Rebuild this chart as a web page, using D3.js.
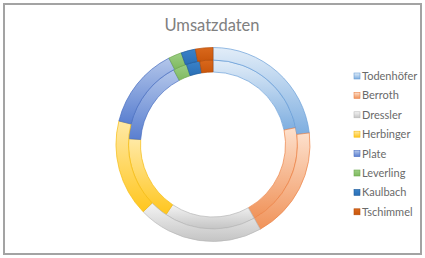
<!DOCTYPE html>
<html>
<head>
<meta charset="utf-8">
<script src="https://cdn.jsdelivr.net/npm/d3@7"></script>
<style>
  body { margin: 0; background: #fff; }
  svg { display: block; }
</style>
</head>
<body>
<svg id="chart"></svg>
<script>
// Umsatzdaten - two rings, inner = first series, outer = second series
var categories = ["Todenhöfer", "Berroth", "Dressler", "Herbinger", "Plate", "Leverling", "Kaulbach", "Tschimmel"];
var innerValues = [21.8, 20.1, 17.5, 16.7, 16.2, 2.6, 2.6, 2.5];
var outerValues = [23.1, 18.8, 20.9, 16.1, 13.6, 2.2, 2.4, 2.9];

var lightColors = ["#e2edf8", "#fde0cc", "#f4f4f4", "#ffe9a6", "#b3c6ea", "#9ccf84", "#3a82c8", "#d9681c"];
var darkColors = ["#7eaee0", "#f0935a", "#c4c4c4", "#ffc61e", "#5a7fd0", "#7fb95f", "#2a6fb6", "#c9560b"];
var strokeColors = ["#6a9fd8", "#ec8448", "#b8b8b8", "#f5bb10", "#4b70c2", "#6fa84f", "#245f9c", "#b44d0a"];

var width = 425, height = 258;
var cx = 213, cy = 144.5;

var svg = d3.select("#chart")
    .attr("width", width)
    .attr("height", height);

// frame
svg.append("rect")
    .attr("x", 4).attr("y", 4)
    .attr("width", 417).attr("height", 250)
    .attr("fill", "#fff")
    .attr("stroke", "#a3a3a3")
    .attr("stroke-width", 2);

var defs = svg.append("defs");
categories.forEach(function (c, i) {
    var g = defs.append("linearGradient")
        .attr("id", "grad" + i)
        .attr("x1", 0).attr("y1", 0).attr("x2", 0).attr("y2", 1);
    g.append("stop").attr("offset", "0%").attr("stop-color", lightColors[i]);
    g.append("stop").attr("offset", "100%").attr("stop-color", darkColors[i]);
});

// title
svg.append("text")
    .attr("x", 212)
    .attr("y", 31)
    .attr("text-anchor", "middle")
    .style("font-family", "Lato, 'Open Sans', sans-serif")
    .style("font-size", "16.5px")
    .attr("fill", "#808080")
    .text("Umsatzdaten");

var pie = d3.pie()
    .sort(null)
    .value(function (d) { return d; });

var innerArc = d3.arc().innerRadius(72.5).outerRadius(84.5);
var outerArc = d3.arc().innerRadius(84.5).outerRadius(97);

var donut = svg.append("g")
    .attr("transform", "translate(" + cx + "," + cy + ")");

function drawRing(values, arc) {
    donut.append("g")
        .selectAll("path")
        .data(pie(values))
        .enter()
        .append("path")
        .attr("d", arc)
        .attr("fill", function (d, i) { return "url(#grad" + i + ")"; })
        .attr("stroke", function (d, i) { return strokeColors[i]; })
        .attr("stroke-width", 0.7);
}

drawRing(innerValues, innerArc);
drawRing(outerValues, outerArc);

// legend
var legend = svg.append("g")
    .attr("transform", "translate(354,76)");

var rows = legend.selectAll("g")
    .data(categories)
    .enter()
    .append("g")
    .attr("transform", function (d, i) { return "translate(0," + (i * 19.4) + ")"; });

rows.append("rect")
    .attr("x", 0).attr("y", -3)
    .attr("width", 6).attr("height", 6)
    .attr("fill", function (d, i) { return "url(#grad" + i + ")"; })
    .attr("stroke", function (d, i) { return strokeColors[i]; })
    .attr("stroke-width", 0.6);

rows.append("text")
    .attr("x", 8)
    .attr("y", 4)
    .style("font-family", "Lato, 'Open Sans', sans-serif")
    .style("font-size", "11px")
    .attr("fill", "#6a6a6a")
    .text(function (d) { return d; });
</script>
</body>
</html>
